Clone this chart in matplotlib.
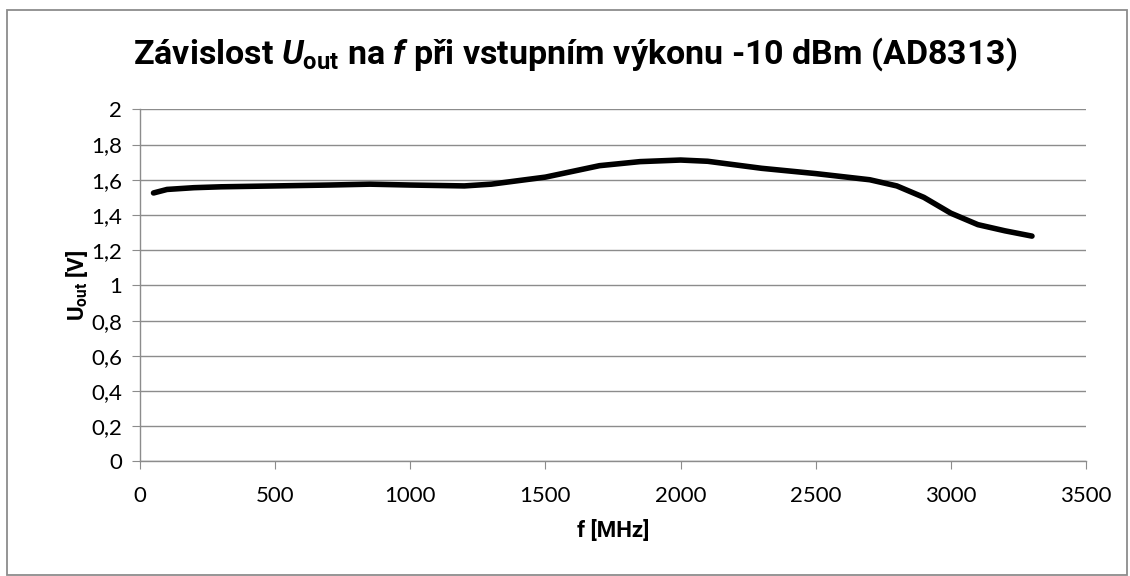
import matplotlib.pyplot as plt
from matplotlib.patches import Rectangle
from matplotlib.ticker import FuncFormatter, MultipleLocator

# data
frekvence = [50, 100, 200, 300, 500, 700, 850, 1000, 1200, 1300, 1500, 1700,
             1850, 2000, 2100, 2300, 2500, 2700, 2800, 2900, 3000, 3100, 3200, 3300]
napeti = [1.525, 1.545, 1.555, 1.560, 1.565, 1.570, 1.575, 1.570, 1.565, 1.575,
          1.615, 1.680, 1.703, 1.712, 1.705, 1.665, 1.635, 1.600, 1.565, 1.500,
          1.410, 1.345, 1.310, 1.280]

plt.rcParams['font.family'] = ['Lato', 'DejaVu Sans']
plt.rcParams['mathtext.fontset'] = 'custom'
plt.rcParams['mathtext.rm'] = 'Roboto:bold'
plt.rcParams['mathtext.it'] = 'Roboto:italic:bold'
plt.rcParams['mathtext.bf'] = 'Roboto:bold'

tucne = ['Roboto', 'DejaVu Sans']

fig = plt.figure(figsize=(11.3, 5.76), dpi=100)
ax = fig.add_axes([0.1239, 0.1988, 0.8372, 0.6114])

ax.plot(frekvence, napeti, color='black', lw=4, solid_capstyle='round',
        solid_joinstyle='round')

ax.set_xlim(0, 3500)
ax.set_ylim(0, 2)
ax.xaxis.set_major_locator(MultipleLocator(500))
ax.yaxis.set_major_locator(MultipleLocator(0.2))
ax.yaxis.set_major_formatter(FuncFormatter(lambda v, p: '{:g}'.format(round(v, 1)).replace('.', ',')))

ax.grid(axis='y', color='#8c8c8c', lw=1)
ax.set_axisbelow(True)
for s in ['top', 'right']:
    ax.spines[s].set_visible(False)
for s in ['left', 'bottom']:
    ax.spines[s].set_color('#8c8c8c')
    ax.spines[s].set_linewidth(1)
ax.tick_params(colors='#8c8c8c', labelcolor='black', labelsize=16, length=6, direction='out')
ax.tick_params(axis='y', pad=7)
ax.tick_params(axis='x', pad=12)

ax.set_xlabel('f [MHz]', fontsize=16, fontweight='bold', family=tucne, labelpad=10)
ax.set_ylabel(r'$\mathrm{U}_{\mathrm{out}}$ [V]', fontsize=16, fontweight='bold', family=tucne, labelpad=1)

fig.text(0.509, 0.906, r'Závislost $\mathit{U}_{\mathrm{out}}$ na $\mathit{f}$ při vstupním výkonu -10 dBm (AD8313)',
         ha='center', va='center', fontsize=24.5, fontweight='bold', family=tucne)

# ramecek kolem grafu
fig.patches.append(Rectangle((0.0062, 0.002), 0.9911, 0.9815, transform=fig.transFigure,
                             fill=False, edgecolor='#8c8c8c', lw=1.3))

fig.savefig('out.png', dpi=100)
